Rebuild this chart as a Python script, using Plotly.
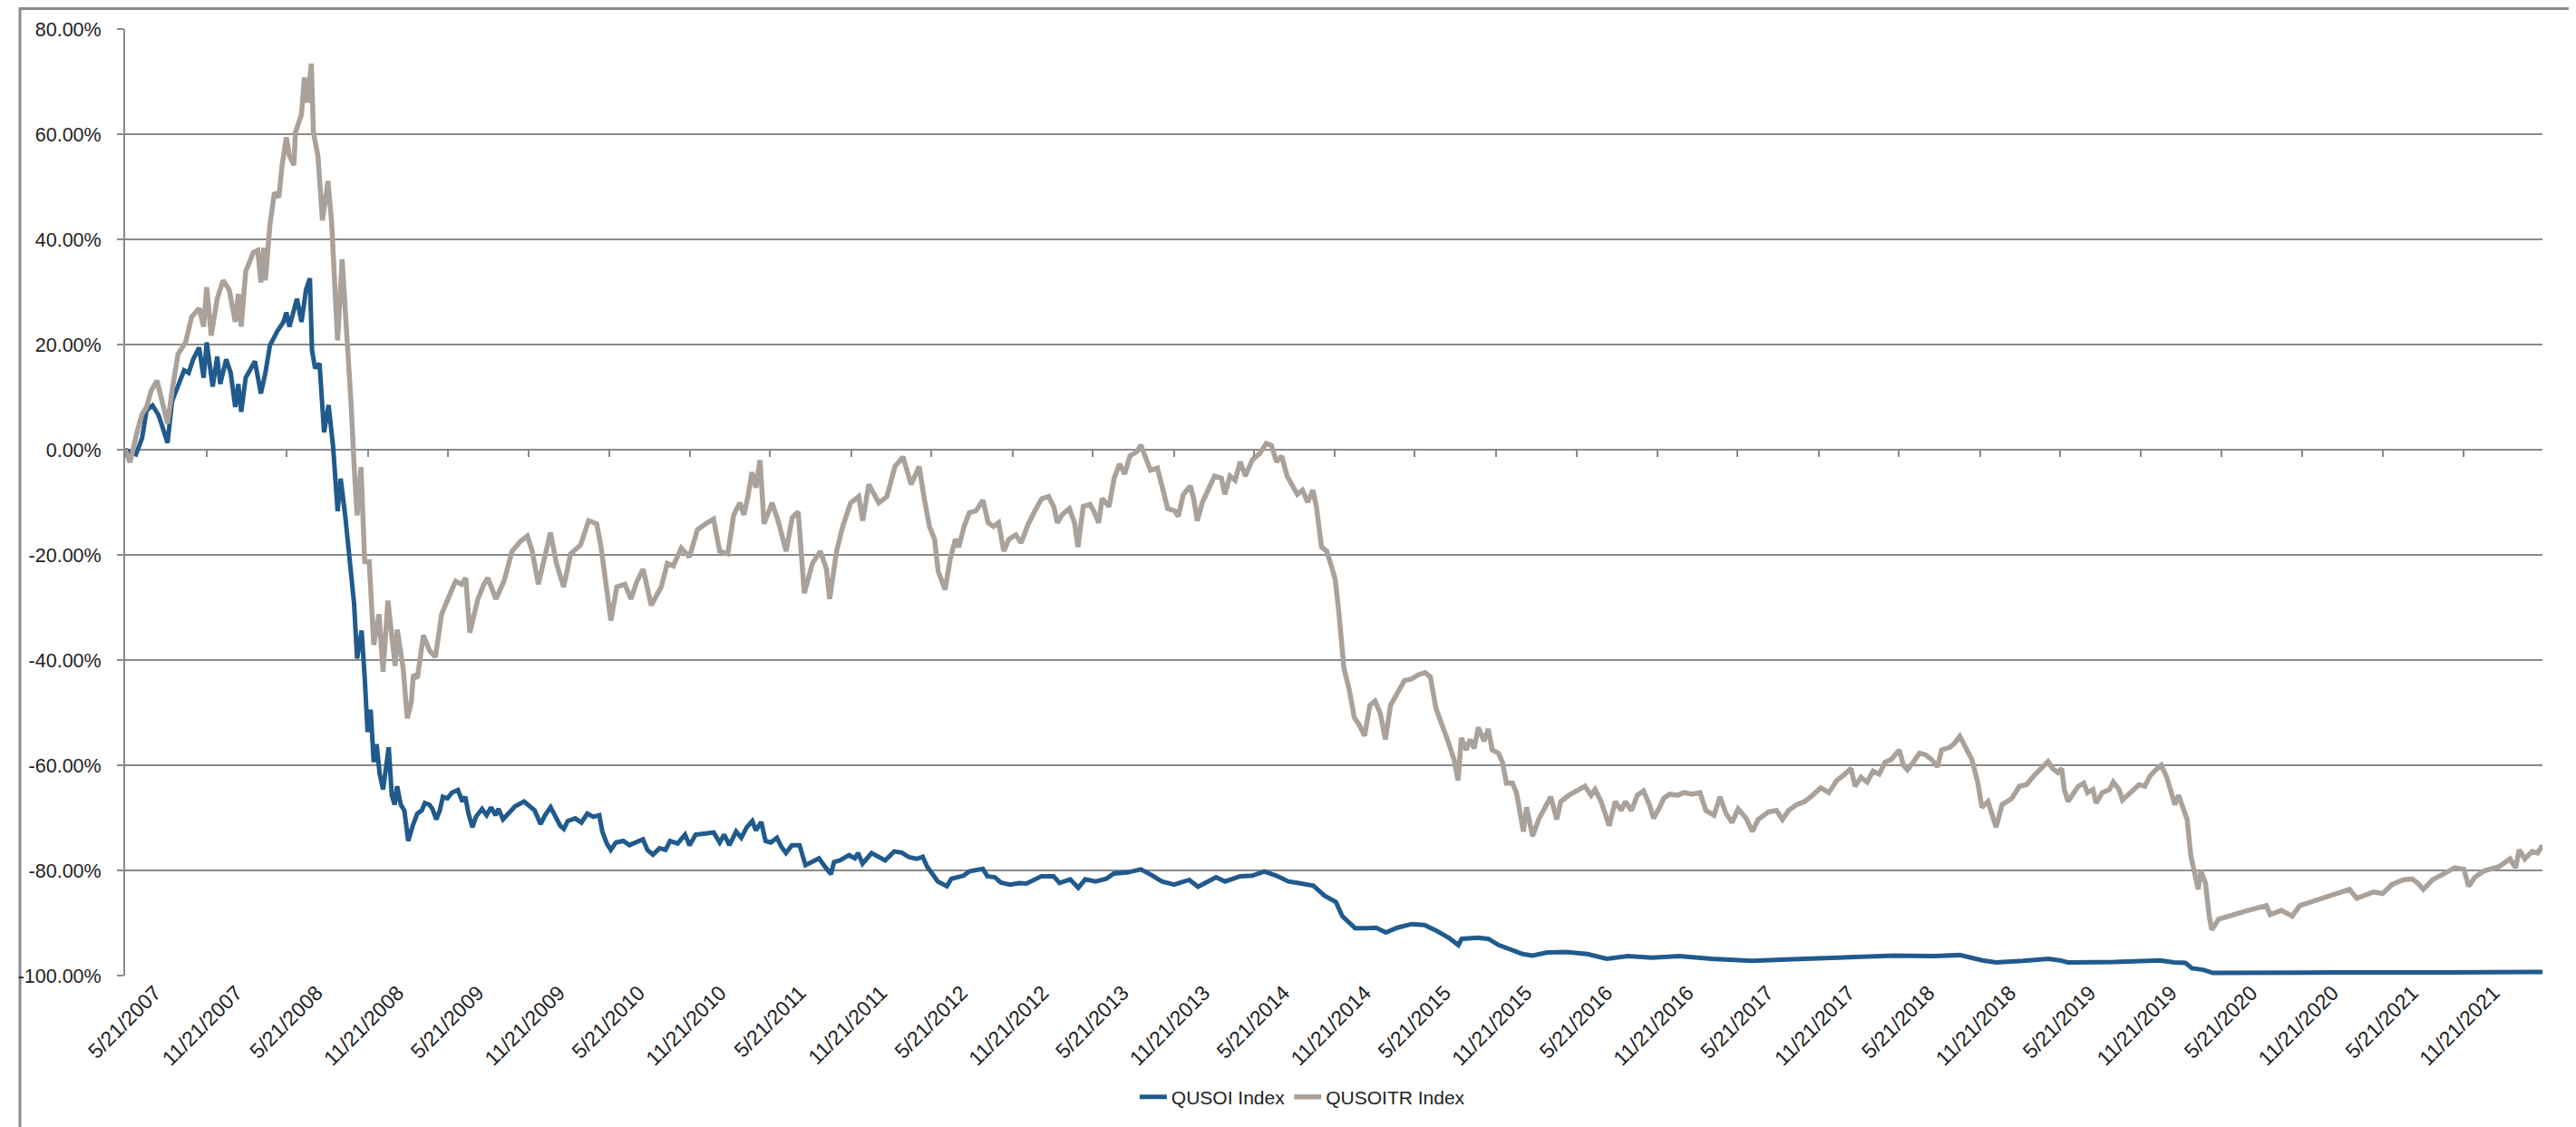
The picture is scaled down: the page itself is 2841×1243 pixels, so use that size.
import numpy as np
import pandas as pd
import plotly.graph_objects as go

START_DATE = "2007-05-21"

tick_labels = [
    "5/21/2007", "11/21/2007", "5/21/2008", "11/21/2008", "5/21/2009", "11/21/2009",
    "5/21/2010", "11/21/2010", "5/21/2011", "11/21/2011", "5/21/2012", "11/21/2012",
    "5/21/2013", "11/21/2013", "5/21/2014", "11/21/2014", "5/21/2015", "11/21/2015",
    "5/21/2016", "11/21/2016", "5/21/2017", "11/21/2017", "5/21/2018", "11/21/2018",
    "5/21/2019", "11/21/2019", "5/21/2020", "11/21/2020", "5/21/2021", "11/21/2021",
]
y_tick_values = [-100, -80, -60, -40, -20, 0, 20, 40, 60, 80]
y_tick_labels = ["-100.00%", "-80.00%", "-60.00%", "-40.00%", "-20.00%",
                 "0.00%", "20.00%", "40.00%", "60.00%", "80.00%"]

series_names = ["QUSOI Index", "QUSOITR Index"]

# (years since 5/21/2007, cumulative return %)
qusoi_2007_2008 = [
    (0.0, 0.0), (0.067, -0.9), (0.105, 2.2), (0.133, 7.5), (0.17, 8.4), (0.188, 7.5),
    (0.207, 6.6), (0.235, 4.0), (0.263, 1.3), (0.291, 9.2), (0.328, 12.0), (0.366, 15.1),
    (0.394, 14.6), (0.422, 17.2), (0.459, 19.4), (0.487, 13.7), (0.506, 20.4), (0.543, 12.0),
    (0.571, 17.7), (0.59, 12.5), (0.627, 17.2), (0.655, 14.6), (0.683, 8.1), (0.702, 12.5),
    (0.72, 7.2), (0.748, 13.7), (0.805, 16.8), (0.823, 13.7), (0.842, 10.7), (0.87, 14.6),
    (0.898, 19.8), (0.945, 22.6), (0.963, 23.4), (0.982, 24.3), (1.0, 26.1), (1.019, 23.4),
    (1.066, 28.7), (1.094, 24.3), (1.122, 30.4), (1.146, 32.6), (1.159, 19.0), (1.178, 15.5),
    (1.206, 16.4), (1.234, 3.3), (1.262, 8.5), (1.29, 0.6), (1.318, -11.7), (1.337, -5.5),
    (1.365, -12.5), (1.393, -21.3), (1.42, -29.2), (1.439, -39.7), (1.467, -34.4),
    (1.486, -43.3), (1.504, -53.7), (1.523, -49.4), (1.542, -59.4), (1.56, -56.0),
    (1.579, -61.7), (1.6, -64.6), (1.635, -56.6), (1.654, -65.7), (1.672, -67.5),
    (1.687, -64.0), (1.71, -67.5), (1.732, -68.6), (1.756, -74.4), (1.784, -71.5),
    (1.812, -69.2), (1.84, -68.6), (1.859, -67.2), (1.887, -67.5), (1.906, -68.3),
    (1.93, -70.3), (1.952, -68.6), (1.971, -66.0), (1.999, -66.3),
]
qusoi_2009_2011 = [
    (2.027, -65.2), (2.064, -64.7), (2.092, -66.9), (2.11, -66.0), (2.13, -69.2),
    (2.154, -71.8), (2.176, -69.8), (2.214, -68.3), (2.242, -69.5), (2.27, -68.0),
    (2.297, -69.5), (2.316, -68.3), (2.344, -70.3), (2.381, -68.9), (2.419, -67.8),
    (2.475, -66.9), (2.512, -67.8), (2.54, -68.6), (2.577, -71.2), (2.605, -69.5),
    (2.639, -68.0), (2.671, -69.8), (2.699, -71.5), (2.721, -72.1), (2.746, -70.6),
    (2.792, -70.1), (2.83, -70.9), (2.867, -69.2), (2.904, -69.8), (2.941, -69.5),
    (2.96, -72.6), (2.988, -74.9), (3.012, -76.1), (3.044, -74.7), (3.09, -74.4),
    (3.128, -75.2), (3.165, -74.7), (3.212, -74.1), (3.24, -76.1), (3.274, -77.0),
    (3.315, -75.8), (3.352, -76.1), (3.38, -74.4), (3.427, -74.9), (3.473, -73.2),
    (3.501, -75.2), (3.539, -73.2), (3.595, -72.9), (3.651, -72.8), (3.688, -74.7),
    (3.716, -73.2), (3.748, -75.2), (3.79, -72.6), (3.822, -73.8), (3.856, -71.8),
    (3.89, -70.6), (3.912, -72.4), (3.946, -70.8), (3.972, -74.4), (4.005, -74.7),
    (4.043, -73.8), (4.071, -75.5), (4.099, -76.7), (4.136, -75.2), (4.183, -75.2),
    (4.22, -79.0), (4.266, -78.4), (4.304, -77.7), (4.341, -79.3), (4.378, -80.7),
    (4.397, -78.4), (4.434, -78.1), (4.49, -77.1), (4.527, -77.7), (4.546, -76.7),
    (4.574, -78.7), (4.63, -76.7), (4.677, -77.5), (4.714, -78.1), (4.77, -76.4),
    (4.817, -76.6), (4.863, -77.5), (4.91, -77.8), (4.947, -77.4), (4.975, -79.3),
]
qusoi_2012_2015 = [
    (5.022, -81.3), (5.04, -82.1), (5.097, -83.0), (5.125, -81.6), (5.2, -81.0),
    (5.236, -80.2), (5.32, -79.7), (5.348, -81.1), (5.395, -81.3), (5.432, -82.3),
    (5.489, -82.7), (5.545, -82.4), (5.591, -82.5), (5.684, -81.1), (5.759, -81.1),
    (5.796, -82.4), (5.862, -81.7), (5.912, -83.3), (5.955, -81.7), (6.02, -82.1),
    (6.086, -81.6), (6.132, -80.6), (6.216, -80.4), (6.3, -79.8), (6.356, -80.7),
    (6.431, -82.1), (6.506, -82.7), (6.6, -81.8), (6.655, -83.1), (6.767, -81.3),
    (6.823, -82.1), (6.916, -81.1), (6.991, -81.0), (7.066, -80.2), (7.14, -81.0),
    (7.215, -82.1), (7.28, -82.4), (7.37, -82.9), (7.44, -84.8), (7.51, -86.0),
    (7.55, -88.7), (7.63, -91.0), (7.7, -91.0), (7.76, -90.9), (7.82, -91.8),
    (7.89, -90.9), (7.98, -90.2), (8.06, -90.4), (8.13, -91.4), (8.21, -92.8),
    (8.27, -94.2), (8.29, -93.0), (8.39, -92.8), (8.455, -93.0), (8.52, -94.2),
    (8.59, -95.1), (8.67, -95.9), (8.73, -96.2), (8.82, -95.6), (8.94, -95.5),
]
qusoi_2016_2022 = [
    (9.07, -95.9), (9.19, -96.8), (9.32, -96.3), (9.47, -96.6), (9.64, -96.3),
    (9.84, -96.8), (10.09, -97.2), (10.34, -96.9), (10.64, -96.5), (10.97, -96.2),
    (11.22, -96.3), (11.38, -96.1), (11.52, -97.1), (11.605, -97.5), (11.77, -97.2),
    (11.93, -96.8), (12.0, -97.1), (12.05, -97.5), (12.34, -97.4), (12.62, -97.1),
    (12.71, -97.5), (12.78, -97.6), (12.82, -98.6), (12.89, -98.9), (12.95, -99.5),
    (13.26, -99.4), (13.72, -99.4), (14.4, -99.4), (14.994, -99.3),
]

qusoitr_2007_2008 = [
    (0.0, 0.0), (0.03, -2.4), (0.077, 3.7), (0.105, 6.8), (0.133, 8.1), (0.161, 11.2),
    (0.198, 13.1), (0.235, 8.5), (0.263, 5.0), (0.291, 11.2), (0.328, 18.2), (0.375, 20.4),
    (0.412, 25.2), (0.459, 26.9), (0.487, 23.4), (0.506, 30.9), (0.534, 21.7), (0.571, 28.7),
    (0.608, 32.2), (0.646, 30.4), (0.683, 24.3), (0.702, 29.6), (0.72, 23.4), (0.748, 33.9),
    (0.795, 37.5), (0.823, 37.9), (0.842, 31.8), (0.86, 38.4), (0.87, 32.2), (0.898, 42.7),
    (0.926, 48.9), (0.954, 48.0), (0.972, 53.7), (1.0, 59.4), (1.019, 55.9), (1.047, 54.1),
    (1.056, 60.3), (1.094, 63.8), (1.112, 70.8), (1.131, 66.0), (1.155, 73.4), (1.168, 60.3),
    (1.196, 55.9), (1.224, 43.6), (1.258, 51.1), (1.28, 43.6), (1.318, 20.8), (1.346, 36.2),
    (1.374, 23.4), (1.402, 8.5), (1.42, -2.9), (1.439, -12.5), (1.463, -3.3), (1.486, -21.3),
    (1.514, -21.3), (1.542, -37.1), (1.575, -31.3), (1.6, -42.2), (1.63, -28.7),
    (1.675, -41.1), (1.688, -34.2), (1.725, -41.7), (1.75, -51.1), (1.775, -48.0),
    (1.788, -42.8), (1.813, -43.4), (1.85, -35.3), (1.888, -38.2), (1.925, -39.4),
    (1.963, -31.3),
]
qusoitr_2009_2011 = [
    (2.013, -27.6), (2.05, -25.0), (2.088, -25.6), (2.113, -24.4), (2.138, -34.8),
    (2.188, -28.4), (2.225, -25.6), (2.25, -24.4), (2.3, -28.4), (2.35, -25.0),
    (2.4, -19.3), (2.45, -17.5), (2.495, -16.4), (2.525, -19.3), (2.563, -25.6),
    (2.638, -15.8), (2.675, -21.6), (2.72, -26.1), (2.763, -19.8), (2.825, -18.1),
    (2.875, -13.5), (2.925, -14.1), (2.95, -18.1), (2.975, -23.9), (3.013, -32.5),
    (3.05, -26.1), (3.1, -25.6), (3.138, -28.4), (3.175, -25.0), (3.213, -22.7),
    (3.263, -29.6), (3.325, -26.1), (3.363, -21.6), (3.4, -22.1), (3.45, -18.7),
    (3.5, -20.4), (3.55, -15.2), (3.6, -14.1), (3.65, -13.2), (3.688, -19.3),
    (3.738, -19.8), (3.775, -12.4), (3.813, -10.1), (3.838, -12.4), (3.863, -8.9),
    (3.888, -4.3), (3.913, -7.2), (3.938, -2.0), (3.963, -14.1), (4.013, -10.1),
    (4.05, -13.5), (4.1, -19.3), (4.138, -12.9), (4.175, -11.8), (4.213, -27.3),
    (4.263, -21.6), (4.313, -19.3), (4.35, -22.7), (4.37, -28.4), (4.413, -19.3),
    (4.45, -14.7), (4.5, -10.1), (4.55, -8.9), (4.575, -13.5), (4.613, -6.6),
    (4.675, -10.1), (4.725, -8.9), (4.775, -3.2), (4.825, -1.4), (4.875, -6.6),
    (4.925, -3.2), (4.957, -9.3), (4.989, -14.6),
]
qusoitr_2012_2014 = [
    (5.021, -17.0), (5.043, -23.1), (5.086, -26.6), (5.118, -20.8), (5.15, -17.0),
    (5.171, -18.5), (5.204, -14.6), (5.236, -12.0), (5.278, -11.6), (5.321, -9.6),
    (5.353, -13.9), (5.386, -14.6), (5.418, -13.9), (5.45, -19.3), (5.482, -17.0),
    (5.525, -16.2), (5.557, -17.7), (5.6, -14.3), (5.643, -11.6), (5.686, -9.3),
    (5.728, -8.9), (5.76, -10.8), (5.782, -13.9), (5.814, -12.3), (5.857, -11.2),
    (5.889, -13.9), (5.91, -18.5), (5.943, -10.8), (5.985, -10.4), (6.007, -11.6),
    (6.039, -13.9), (6.06, -9.3), (6.103, -10.8), (6.135, -5.4), (6.168, -2.7),
    (6.2, -4.6), (6.232, -1.2), (6.275, -0.4), (6.3, 0.9), (6.328, -1.2), (6.36, -3.9),
    (6.403, -3.5), (6.435, -7.7), (6.467, -11.2), (6.51, -11.6), (6.532, -12.7),
    (6.564, -8.5), (6.607, -6.9), (6.628, -9.3), (6.65, -13.5), (6.682, -10.0),
    (6.714, -7.7), (6.757, -5.0), (6.8, -5.4), (6.821, -8.5), (6.853, -5.0),
    (6.885, -5.8), (6.917, -2.3), (6.949, -5.0), (6.992, -1.9), (7.035, -0.8),
    (7.078, 1.2), (7.11, 0.8), (7.142, -2.3), (7.174, -1.2), (7.207, -5.0),
    (7.239, -6.9), (7.271, -8.5), (7.303, -7.7), (7.335, -10.0), (7.367, -7.7),
    (7.389, -10.8), (7.421, -18.5), (7.453, -19.3), (7.485, -22.4), (7.506, -24.7),
    (7.528, -30.8), (7.56, -41.6), (7.592, -45.5), (7.624, -50.9), (7.656, -52.4),
    (7.688, -54.4), (7.721, -48.6), (7.753, -47.8), (7.785, -50.1), (7.817, -55.1),
    (7.849, -48.6), (7.892, -46.3), (7.935, -43.9),
]
qusoitr_2015_2018 = [
    (7.978, -43.6), (8.021, -42.8), (8.063, -42.4), (8.096, -43.2), (8.13, -49.1),
    (8.168, -52.0), (8.205, -55.4), (8.243, -58.9), (8.268, -62.9), (8.288, -54.8),
    (8.318, -57.1), (8.343, -55.1), (8.368, -56.8), (8.393, -52.8), (8.43, -55.4),
    (8.455, -53.1), (8.48, -57.1), (8.518, -57.7), (8.543, -59.4), (8.568, -63.4),
    (8.605, -63.4), (8.63, -65.2), (8.655, -69.2), (8.673, -72.6), (8.693, -68.0),
    (8.713, -71.5), (8.73, -73.5), (8.768, -70.3), (8.805, -68.0), (8.843, -66.0),
    (8.88, -70.3), (8.905, -66.9), (8.955, -65.7), (9.018, -64.6), (9.055, -64.0),
    (9.093, -65.7), (9.118, -64.6), (9.155, -66.9), (9.18, -69.2), (9.205, -71.5),
    (9.243, -66.9), (9.28, -68.6), (9.305, -66.9), (9.343, -68.6), (9.38, -65.7),
    (9.418, -64.9), (9.455, -67.5), (9.48, -70.1), (9.518, -68.0), (9.543, -66.3),
    (9.58, -65.5), (9.63, -65.7), (9.668, -65.2), (9.718, -65.5), (9.768, -65.2),
    (9.805, -68.6), (9.855, -69.5), (9.893, -66.0), (9.93, -69.2), (9.968, -70.9),
    (10.005, -68.3), (10.055, -70.1), (10.093, -72.6), (10.13, -70.3), (10.193, -68.9),
    (10.243, -68.6), (10.28, -70.3), (10.318, -68.6), (10.368, -67.5), (10.418, -66.9),
    (10.467, -65.7), (10.517, -64.3), (10.567, -65.2), (10.617, -62.9), (10.667, -61.7),
    (10.705, -60.6), (10.73, -64.0), (10.767, -62.3), (10.805, -63.2), (10.842, -61.1),
    (10.88, -61.7), (10.917, -59.4), (10.955, -58.9), (11.005, -57.1), (11.03, -60.0),
    (11.055, -60.9), (11.092, -59.4), (11.13, -57.7), (11.167, -58.0), (11.205, -58.9),
    (11.242, -60.3), (11.267, -57.1), (11.317, -56.6), (11.342, -56.0), (11.38, -54.5),
    (11.417, -56.6), (11.455, -58.9), (11.492, -63.4), (11.517, -68.0), (11.555, -66.9),
    (11.58, -69.2), (11.605, -71.8), (11.642, -67.5),
]
qusoitr_2019_2022 = [
    (11.703, -66.3), (11.749, -64.0), (11.794, -63.7), (11.84, -62.0), (11.886, -60.6),
    (11.927, -59.3), (11.955, -60.6), (11.989, -61.4), (12.012, -60.6), (12.028, -64.6),
    (12.051, -66.9), (12.08, -65.7), (12.115, -64.0), (12.149, -63.4), (12.172, -65.2),
    (12.206, -64.6), (12.225, -67.2), (12.264, -65.2), (12.309, -64.6), (12.332, -63.2),
    (12.367, -64.6), (12.389, -66.6), (12.435, -65.2), (12.492, -63.7), (12.527, -64.0),
    (12.561, -62.0), (12.595, -60.9), (12.63, -60.0), (12.664, -62.3), (12.692, -64.9),
    (12.714, -67.5), (12.737, -65.7), (12.767, -68.0), (12.79, -70.3), (12.813, -77.2),
    (12.836, -80.7), (12.859, -83.6), (12.875, -80.1), (12.904, -82.4), (12.927, -88.7),
    (12.943, -91.3), (12.985, -89.3), (13.076, -88.4), (13.168, -87.6), (13.282, -86.7),
    (13.305, -88.4), (13.374, -87.6), (13.442, -88.7), (13.488, -86.7), (13.603, -85.6),
    (13.717, -84.4), (13.797, -83.6), (13.843, -85.3), (13.946, -84.1), (14.003, -84.4),
    (14.06, -82.7), (14.129, -81.8), (14.186, -81.6), (14.22, -82.4), (14.255, -83.6),
    (14.312, -81.8), (14.404, -80.1), (14.45, -79.5), (14.507, -79.8), (14.536, -83.0),
    (14.575, -81.3), (14.632, -80.1), (14.724, -79.3), (14.793, -77.8), (14.827, -79.5),
    (14.85, -76.1), (14.884, -77.8), (14.93, -76.4), (14.964, -76.7), (14.994, -75.2),
]

qusoi_points = qusoi_2007_2008 + qusoi_2009_2011 + qusoi_2012_2015 + qusoi_2016_2022
qusoitr_points = (qusoitr_2007_2008 + qusoitr_2009_2011 + qusoitr_2012_2014
                  + qusoitr_2015_2018 + qusoitr_2019_2022)

start = pd.Timestamp(START_DATE)


def to_dates(years):
    return start + pd.to_timedelta(np.asarray(years, dtype=float) * 365.25, unit="D")


def split(points):
    yrs = [p[0] for p in points]
    vals = [p[1] for p in points]
    return to_dates(yrs), vals


x_blue, y_blue = split(qusoi_points)
x_grey, y_grey = split(qusoitr_points)

tick_dates = pd.to_datetime(tick_labels, format="%m/%d/%Y")
x_range = [start, max(x_blue.max(), x_grey.max())]

BLUE = "#215a8c"
GREY = "#aaa19b"
GRID = "#8a8a8a"
TEXT = "#222222"
FONT = "Liberation Sans, Arial, sans-serif"

W, H = 2841, 1243
ML, MR, MT, MB = 118, 45, 24, 175
PW, PH = W - ML - MR, H - MT - MB

fig = go.Figure()
fig.add_trace(go.Scatter(x=x_blue, y=y_blue, mode="lines", name=series_names[0],
                         line=dict(color=BLUE, width=5), hoverinfo="skip"))
fig.add_trace(go.Scatter(x=x_grey, y=y_grey, mode="lines", name=series_names[1],
                         line=dict(color=GREY, width=5.5), hoverinfo="skip"))
# carrier for the axis drawn along the 0% line (tick marks only)
fig.add_trace(go.Scatter(x=[], y=[], xaxis="x2", showlegend=False, hoverinfo="skip"))


def px_x(px):
    return (px - ML) / PW


def px_y(py):
    return (H - MB - py) / PH


fig.update_layout(
    width=W, height=H,
    margin=dict(l=ML, r=MR, t=MT, b=MB),
    paper_bgcolor="white", plot_bgcolor="white",
    font=dict(family=FONT, size=21, color=TEXT),
    xaxis=dict(
        type="date", range=x_range, tickvals=tick_dates, ticktext=tick_labels,
        tickangle=-45, showgrid=False, showline=False, zeroline=False, ticks="",
        tickfont=dict(size=23, color=TEXT), ticklabelshift=33,
    ),
    xaxis2=dict(
        type="date", range=x_range, tickvals=tick_dates, overlaying="x",
        anchor="free", position=100 / 180, side="bottom",
        ticks="outside", ticklen=7, tickwidth=2, tickcolor=GRID,
        showticklabels=False, showgrid=False, showline=False, zeroline=False,
    ),
    yaxis=dict(
        range=[-100, 80], tickvals=y_tick_values, ticktext=y_tick_labels,
        showgrid=True, gridcolor=GRID, gridwidth=2,
        showline=True, linecolor=GRID, linewidth=2,
        ticks="outside", ticklen=7, tickwidth=2, tickcolor=GRID,
        zeroline=False, tickfont=dict(size=21.5, color=TEXT), ticklabelstandoff=13,
    ),
    legend=dict(
        orientation="h", x=0.487, xanchor="center", y=px_y(1202), yanchor="middle",
        font=dict(size=21, color=TEXT), bgcolor="rgba(0,0,0,0)",
    ),
    shapes=[dict(
        type="rect", xref="paper", yref="paper",
        x0=px_x(1.5), x1=px_x(W - 2.5), y0=px_y(H - 2.5), y1=px_y(1.5),
        line=dict(color=GRID, width=3), fillcolor="rgba(0,0,0,0)", layer="below",
    )],
    showlegend=True,
)

fig.write_html("out.html")
